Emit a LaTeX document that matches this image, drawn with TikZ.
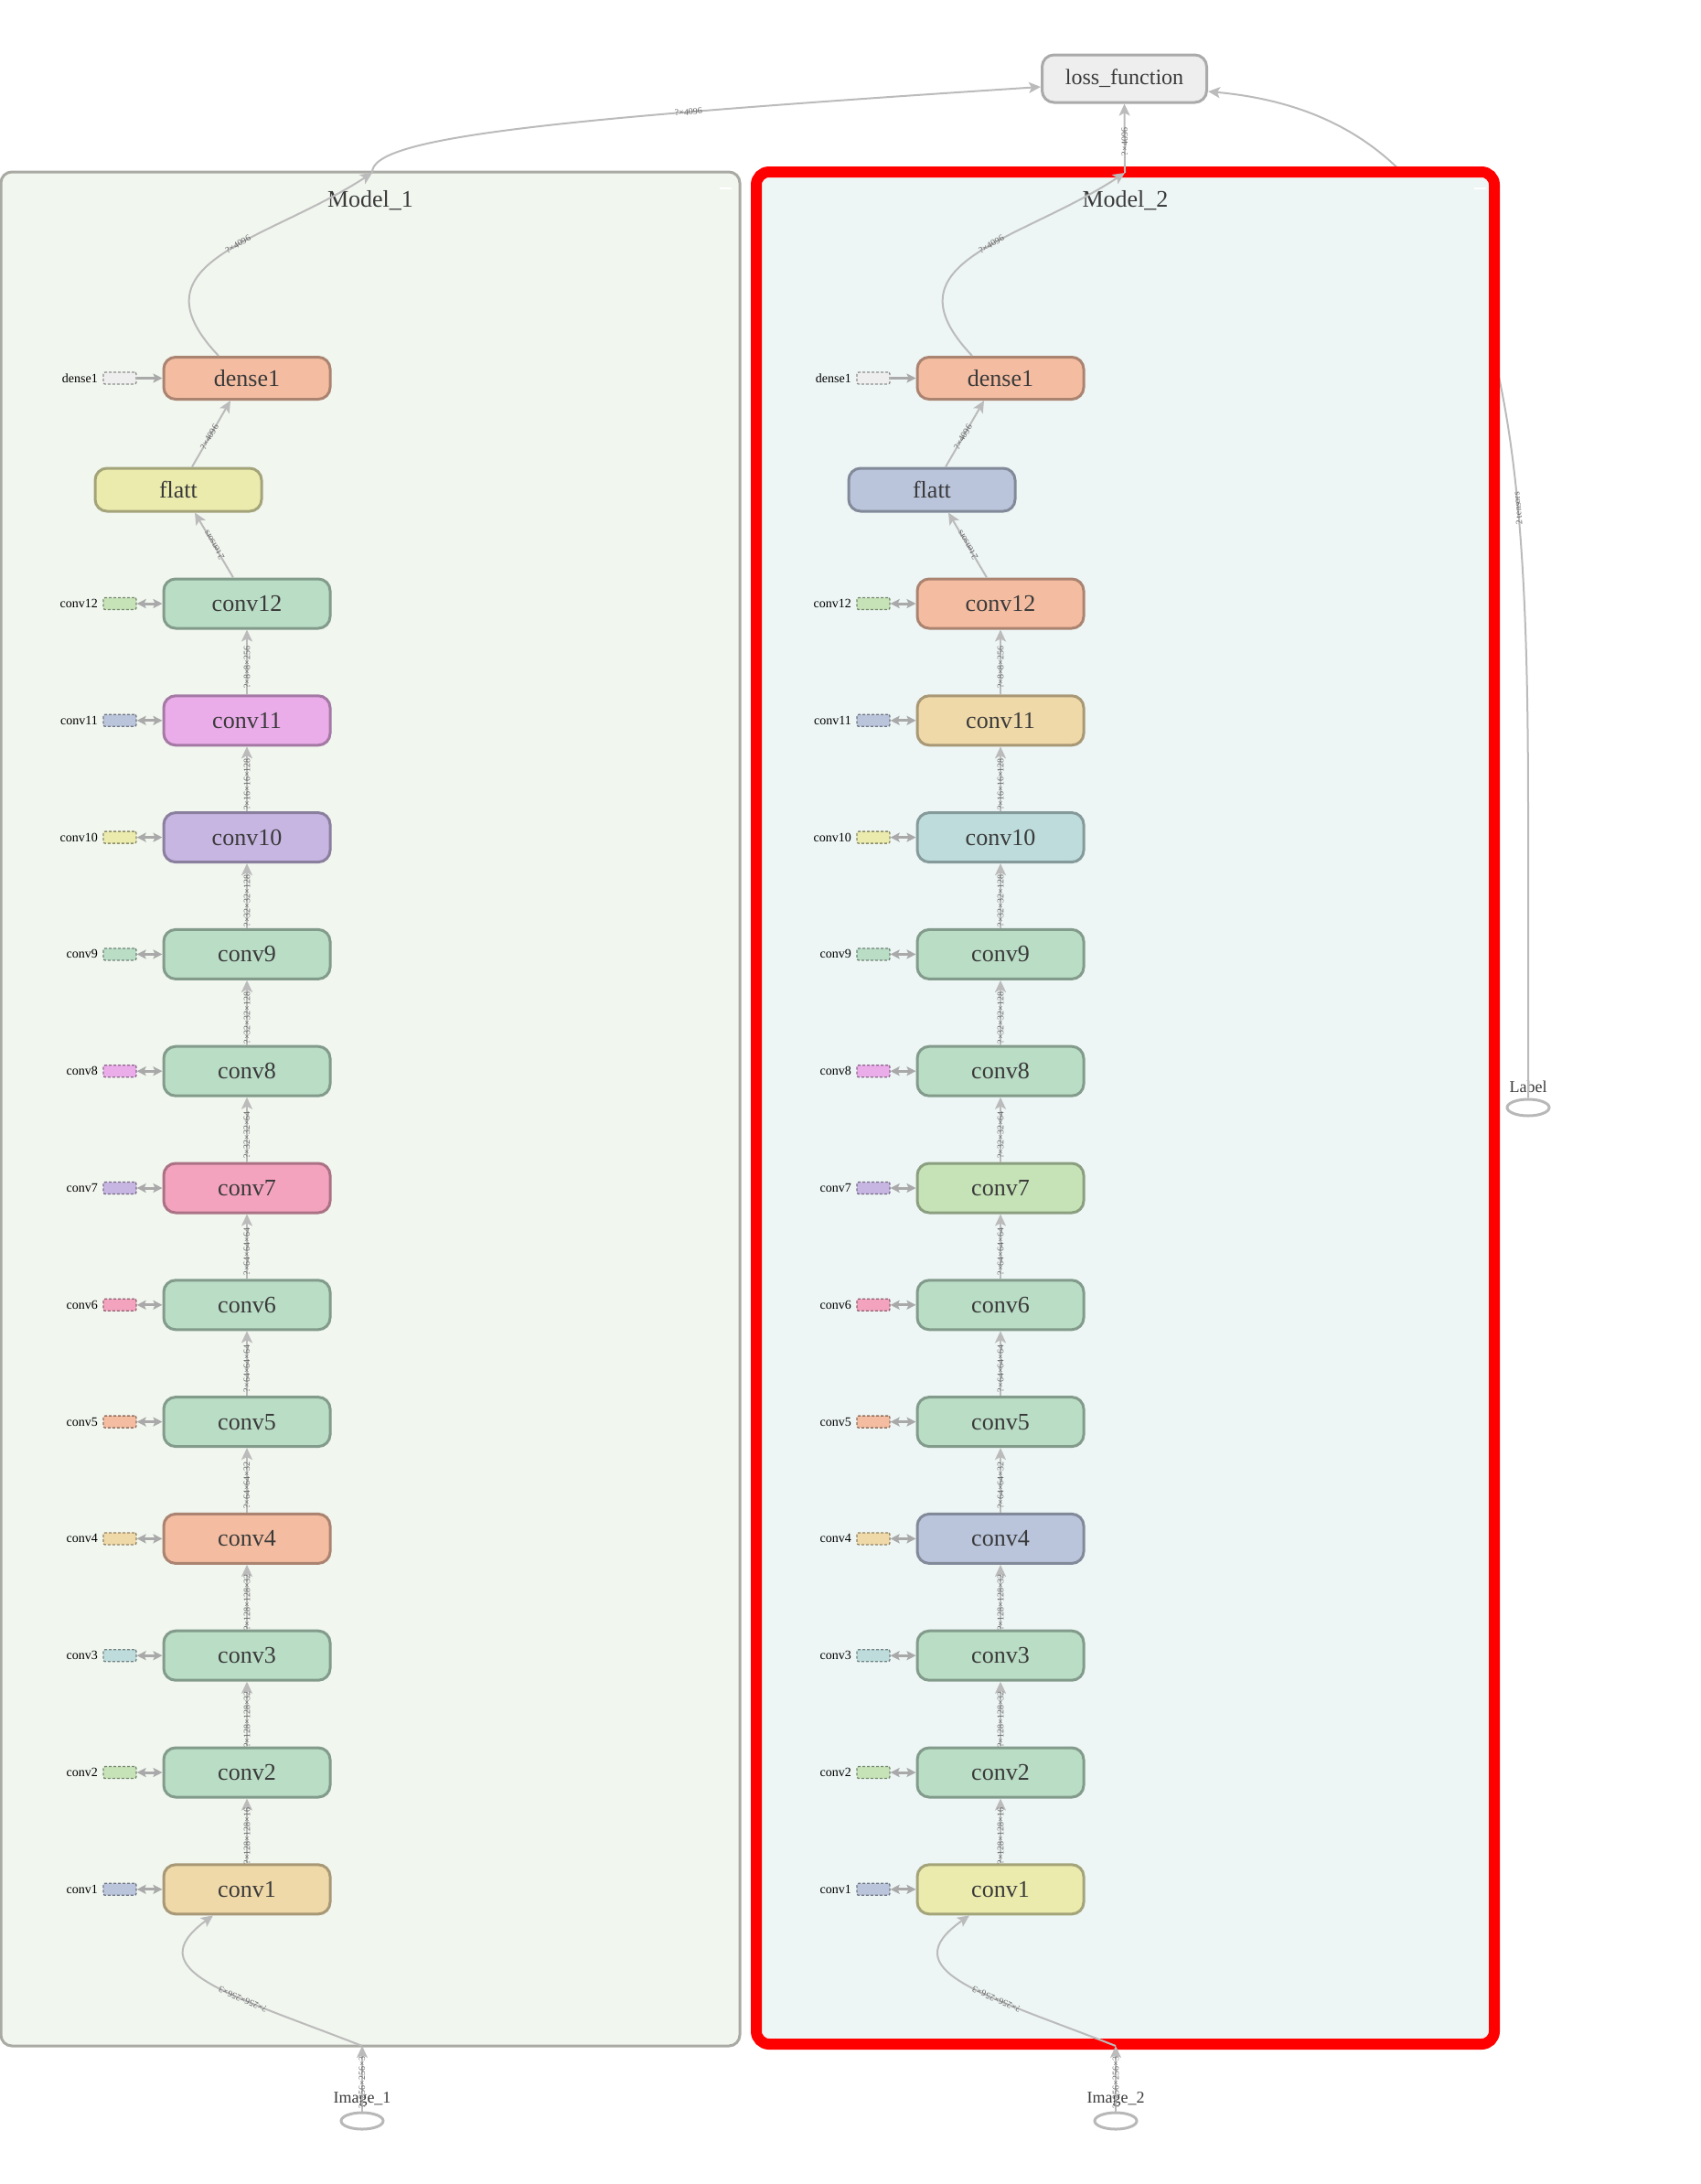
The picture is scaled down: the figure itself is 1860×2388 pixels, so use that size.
\documentclass[tikz,border=0pt]{standalone}
\usepackage{fontspec}
\setmainfont{Liberation Serif}
\usetikzlibrary{arrows.meta,shapes.geometric,calc}
\definecolor{txtc}{HTML}{3A3A3A}
\definecolor{edgec}{HTML}{BBBBBB}
\definecolor{sedgec}{HTML}{A9A9A9}
\definecolor{elc}{HTML}{666666}
\definecolor{cpeach}{HTML}{F4BDA1}
\definecolor{cyellow}{HTML}{EBEBAE}
\definecolor{cgreen}{HTML}{BADDC6}
\definecolor{cmag}{HTML}{EBADEA}
\definecolor{clav}{HTML}{C7B5E2}
\definecolor{cpink}{HTML}{F4A3BE}
\definecolor{ctan}{HTML}{F0D9A9}
\definecolor{cblue}{HTML}{BAC5DC}
\definecolor{ccyan}{HTML}{BEDCDC}
\definecolor{clgreen}{HTML}{C6E3B7}
\definecolor{clgray}{HTML}{EEEEEE}
\definecolor{clusAfill}{HTML}{F1F6EF}
\definecolor{clusAdraw}{HTML}{AAAAA5}
\definecolor{clusBfill}{HTML}{EDF6F5}
\definecolor{lossfill}{HTML}{EEEEEE}
\definecolor{lossdraw}{HTML}{AAAAAA}
\definecolor{iodraw}{HTML}{B8B8B8}
\begin{document}
\begin{tikzpicture}[x=1pt,y=-1pt,
  mainbox/.style={rectangle, rounded corners=13pt, minimum width=182pt, minimum height=54pt,
    line width=3pt, inner sep=0pt, font=\fontsize{26}{26}\selectfont, text=txtc},
  lossbox/.style={rectangle, rounded corners=13pt, minimum width=180pt, minimum height=52pt,
    line width=3pt, inner sep=0pt, font=\fontsize{24}{24}\selectfont, text=txtc,
    fill=lossfill, draw=lossdraw},
  sbox/.style={rectangle, rounded corners=2pt, minimum width=36pt, minimum height=13pt,
    inner sep=0pt, line width=1.3pt, dash pattern=on 3pt off 2pt},
  slabel/.style={font=\fontsize{14}{14}\selectfont, text=black, inner sep=0pt, anchor=east},
  iotext/.style={font=\fontsize{18}{18}\selectfont, text=txtc, inner sep=0pt},
  ellip/.style={ellipse, minimum width=46pt, minimum height=18pt, inner sep=0pt,
    draw=iodraw, line width=3pt},
  titletext/.style={font=\fontsize{26}{26}\selectfont, text=txtc, inner sep=0pt},
  edge/.style={draw=edgec, line width=2pt, -{Stealth[length=13pt,width=12pt,inset=3pt]}},
  sedge/.style={draw=sedgec, line width=3pt,
    {Stealth[length=10pt,width=10pt,inset=2pt]}-{Stealth[length=10pt,width=10pt,inset=2pt]}},
  sedgeone/.style={draw=sedgec, line width=3pt, -{Stealth[length=10pt,width=10pt,inset=2pt]}},
  elabel/.style={font=\fontsize{10}{10}\selectfont, text=elc, inner sep=0pt, sloped, allow upside down},
  clusA/.style={rectangle, rounded corners=12pt, minimum width=808pt, minimum height=2049pt,
    fill=clusAfill, draw=clusAdraw, line width=3pt, inner sep=0pt},
  clusB/.style={rectangle, rounded corners=14pt, minimum width=807pt, minimum height=2047pt,
    fill=clusBfill, draw=red, line width=12pt, inner sep=0pt}
]
\useasboundingbox (0,0) rectangle (1860,2388);

% ---------- outside nodes ----------
\node[lossbox] (loss) at (1229.5,86) {loss\_function};
\node[ellip] (lbl) at (1671,1211) {};
\node[iotext] (lblt) at (1671,1188) {Label};
\coordinate (lblbend) at (1671,900);
\draw[edge] (lbl.north) -- (lblbend) .. controls (1671,450) and (1650,130) ..
  node[elabel,pos=0.28]{2 tensors} ([yshift=-14pt]loss.east);

% ---------- clusters ----------
\node[clusA] (M1) at (405,1212.5) {};
\node[clusB] (M2) at (1230.5,1211.5) {};
\draw[white, line width=2pt] (787,206) -- (800,206);
\draw[white, line width=2pt] (1612,206) -- (1625,206);
\node[titletext] (t1) at (405,219) {Model\_1};
\node[titletext] (t2) at (1230.5,219) {Model\_2};

% ---------- Model_1 ----------
\foreach \k/\mc/\sc in {12/cgreen/clgreen, 11/cmag/cblue, 10/clav/cyellow, 9/cgreen/cgreen,
  8/cgreen/cmag, 7/cpink/clav, 6/cgreen/cpink, 5/cgreen/cpeach, 4/cpeach/ctan,
  3/cgreen/ccyan, 2/cgreen/clgreen, 1/ctan/cblue}{
  \pgfmathsetmacro\yy{660+(12-\k)*127.8}
  \node[mainbox, fill=\mc, draw=\mc!70!black] (m1c\k) at (270,\yy) {conv\k};
  \node[sbox, fill=\sc, draw=\sc!60!black] (m1s\k) at (131,\yy) {};
  \node[slabel] (m1l\k) at (107,\yy) {conv\k};
  \draw[sedge] (m1s\k) -- (m1c\k);
}
\node[mainbox, minimum height=47pt, fill=cyellow, draw=cyellow!70!black] (m1f) at (195,535.5) {flatt};
\node[mainbox, minimum height=46pt, fill=cpeach, draw=cpeach!70!black] (m1d) at (270,413.5) {dense1};
\node[sbox, fill=clgray, draw=clgray!60!black] (m1sd) at (131,413.5) {};
\node[slabel] (m1ld) at (107,413.5) {dense1};
\draw[sedgeone] (m1sd) -- (m1d);

% ---------- Model_2 ----------
\foreach \k/\mc/\sc in {12/cpeach/clgreen, 11/ctan/cblue, 10/ccyan/cyellow, 9/cgreen/cgreen,
  8/cgreen/cmag, 7/clgreen/clav, 6/cgreen/cpink, 5/cgreen/cpeach, 4/cblue/ctan,
  3/cgreen/ccyan, 2/cgreen/clgreen, 1/cyellow/cblue}{
  \pgfmathsetmacro\yy{660+(12-\k)*127.8}
  \node[mainbox, fill=\mc, draw=\mc!70!black] (m2c\k) at (1094,\yy) {conv\k};
  \node[sbox, fill=\sc, draw=\sc!60!black] (m2s\k) at (955,\yy) {};
  \node[slabel] (m2l\k) at (931,\yy) {conv\k};
  \draw[sedge] (m2s\k) -- (m2c\k);
}
\node[mainbox, minimum height=47pt, fill=cblue, draw=cblue!70!black] (m2f) at (1019,535.5) {flatt};
\node[mainbox, minimum height=46pt, fill=cpeach, draw=cpeach!70!black] (m2d) at (1094,413.5) {dense1};
\node[sbox, fill=clgray, draw=clgray!60!black] (m2sd) at (955,413.5) {};
\node[slabel] (m2ld) at (931,413.5) {dense1};
\draw[sedgeone] (m2sd) -- (m2d);

% ---------- chain edges ----------
\foreach \m in {1,2}{
  \foreach \a/\b/\t in {1/2/{?×128×128×16}, 2/3/{?×128×128×32}, 3/4/{?×128×128×32},
    4/5/{?×64×64×32}, 5/6/{?×64×64×64}, 6/7/{?×64×64×64}, 7/8/{?×32×32×64},
    8/9/{?×32×32×128}, 9/10/{?×32×32×128}, 10/11/{?×16×16×128}, 11/12/{?×8×8×256}}{
    \draw[edge] (m\m c\a.north) -- node[elabel,pos=0.42]{\t} (m\m c\b.south);
  }
  \draw[edge] ([xshift=-15pt]m\m c12.north) -- node[elabel,pos=0.5]{2 tensors} ([xshift=18pt]m\m f.south);
  \draw[edge] ([xshift=15pt]m\m f.north) -- node[elabel,pos=0.45]{?×4096} ([xshift=-18pt]m\m d.south);
}

% ---------- top edges ----------
\coordinate (m1top) at (407,189);
\coordinate (m2top) at (1230,189);
\draw[edge] ([xshift=-31pt]m1d.north) .. controls (140,285) and (290,265) ..
  node[elabel,pos=0.57]{?×4096} (m1top);
\draw[edge] (m1top) .. controls (405,150) and (600,130) ..
  node[elabel,pos=0.71]{?×4096} ([yshift=-9pt]loss.west);
\draw[edge] ([xshift=-31pt]m2d.north) .. controls (964,285) and (1114,265) ..
  node[elabel,pos=0.57]{?×4096} (m2top);
\draw[edge] (m2top) -- node[elabel,pos=0.45]{?×4096} (loss.south);

% ---------- image inputs ----------
\node[ellip] (i1) at (396,2319) {};
\node[iotext] (i1t) at (396,2295) {Image\_1};
\coordinate (m1bot) at (396,2237);
\draw[edge] (i1.north) -- node[elabel,pos=0.44]{?×256×256×3} (m1bot);
\draw[edge] (m1bot) .. controls (250,2180) and (150,2155) ..
  node[elabel,pos=0.35]{?×256×256×3} ([xshift=-37pt]m1c1.south);

\node[ellip] (i2) at (1220,2319) {};
\node[iotext] (i2t) at (1220,2295) {Image\_2};
\coordinate (m2bot) at (1220,2237);
\draw[edge] (i2.north) -- node[elabel,pos=0.44]{?×256×256×3} (m2bot);
\draw[edge] (m2bot) .. controls (1074,2180) and (974,2155) ..
  node[elabel,pos=0.35]{?×256×256×3} ([xshift=-34pt]m2c1.south);
\end{tikzpicture}
\end{document}
